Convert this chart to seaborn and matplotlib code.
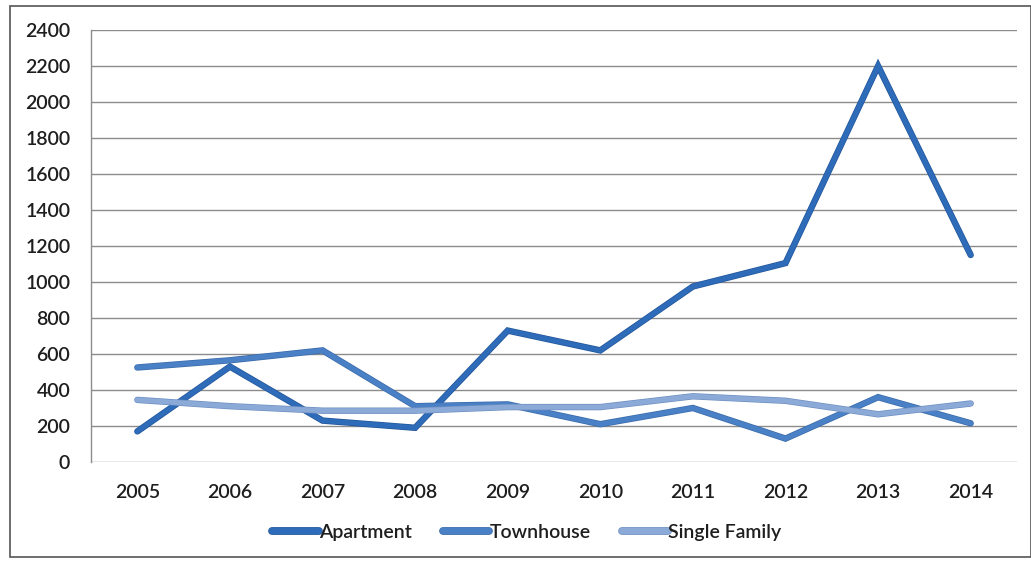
import matplotlib
matplotlib.use("Agg")
import matplotlib.pyplot as plt
import matplotlib.patheffects as pe
import seaborn as sns
import pandas as pd

years = [2005, 2006, 2007, 2008, 2009, 2010, 2011, 2012, 2013, 2014]
apartment = [170, 530, 230, 190, 730, 620, 975, 1105, 2200, 1150]
townhouse = [525, 565, 620, 310, 320, 210, 300, 130, 360, 215]
single_family = [345, 310, 285, 285, 305, 305, 365, 340, 265, 325]
series_names = ["Apartment", "Townhouse", "Single Family"]
y_ticks = [0, 200, 400, 600, 800, 1000, 1200, 1400, 1600, 1800, 2000, 2200, 2400]

df = pd.DataFrame({
    "Year": years * 3,
    "Value": apartment + townhouse + single_family,
    "Type": [series_names[0]] * 10 + [series_names[1]] * 10 + [series_names[2]] * 10,
})

sns.set_theme(style="white")
plt.rcParams["font.family"] = ["Lato", "DejaVu Sans"]

colors = {"Apartment": "#2E6BB8", "Townhouse": "#4A80C6", "Single Family": "#8BAAD8"}
edges = {"Apartment": "#22569A", "Townhouse": "#3A6AA8", "Single Family": "#6E8FC0"}

fig = plt.figure(figsize=(10.31, 5.61), dpi=100)
ax = fig.add_axes([0.0883, 0.1765, 0.8981, 0.77])

sns.lineplot(data=df, x="Year", y="Value", hue="Type", palette=colors,
             linewidth=3.6, ax=ax, legend=False, sort=False)
for line, name in zip(ax.get_lines(), series_names):
    line.set_path_effects([pe.Stroke(linewidth=4.6, foreground=edges[name]), pe.Normal()])
    line.set_solid_joinstyle("miter")

ax.set_xlim(2004.5, 2014.5)
ax.set_ylim(0, 2400)
ax.set_yticks(y_ticks)
ax.set_xticks(years)
ax.set_xticklabels([str(y) for y in years])
ax.yaxis.grid(True, color="#8C8C8C", linewidth=1.0)
ax.xaxis.grid(False)
ax.set_axisbelow(True)
for s in ["top", "right", "bottom"]:
    ax.spines[s].set_visible(False)
ax.spines["left"].set_color("#8C8C8C")
ax.spines["left"].set_linewidth(1.0)
ax.tick_params(axis="both", labelsize=14, colors="#1E1E1E", length=0)
for lbl in ax.get_xticklabels() + ax.get_yticklabels():
    lbl.set_fontweight("semibold")
ax.tick_params(axis="y", pad=15)
ax.tick_params(axis="x", pad=16)
ax.set_xlabel("")
ax.set_ylabel("")

handles = []
for name in series_names:
    h = plt.Line2D([0], [0], color=colors[name], linewidth=4.6,
                   path_effects=[pe.Stroke(linewidth=5.6, foreground=edges[name]), pe.Normal()])
    handles.append(h)
leg = fig.legend(handles, series_names, loc="center", bbox_to_anchor=(0.511, 0.051),
                 ncol=3, frameon=False, handlelength=2.4, handletextpad=0.0,
                 columnspacing=1.6, labelcolor="#1E1E1E",
                 prop={"size": 14, "weight": "semibold"})

border = plt.Rectangle((0.0098, 0.008), 0.99, 0.981, transform=fig.transFigure,
                       fill=False, edgecolor="#555555", linewidth=1.2)
fig.patches.append(border)

fig.savefig("out.png", dpi=100)
